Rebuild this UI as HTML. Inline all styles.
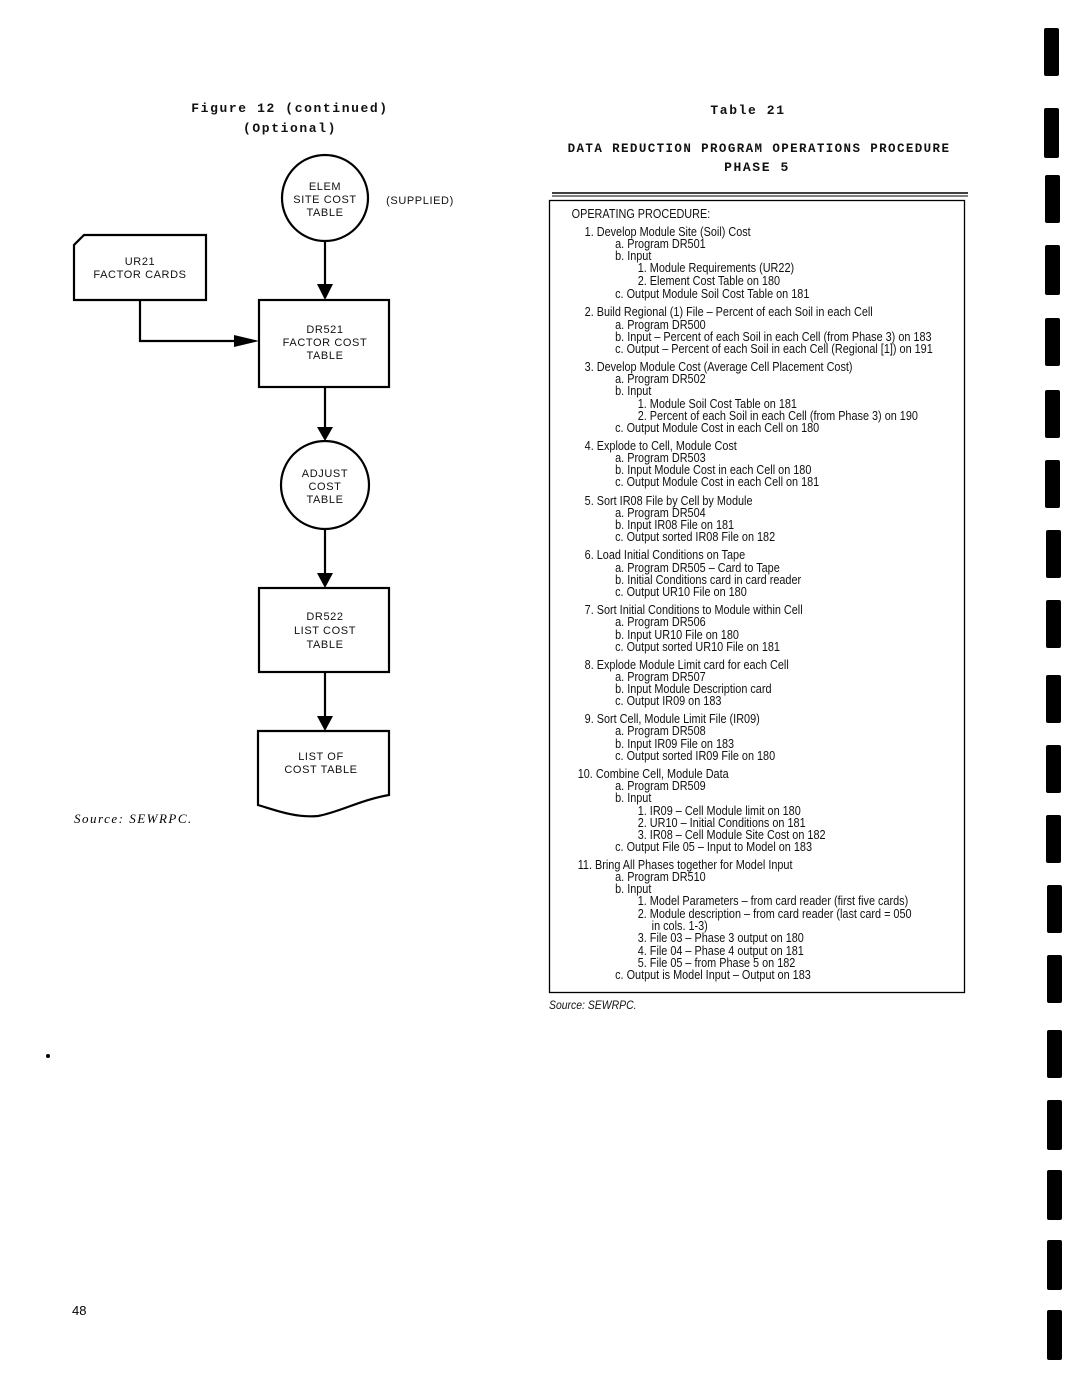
<!DOCTYPE html>
<html><head><meta charset="utf-8"><style>
html,body{margin:0;padding:0;background:#fff;}
svg{display:block}
.fc{font-family:"Liberation Sans",sans-serif;font-size:11px;letter-spacing:0.6px;text-anchor:middle;fill:#111}
.mono{font-family:"Liberation Mono",monospace;font-size:13px;font-weight:bold;letter-spacing:1.6px;text-anchor:middle;fill:#111}
.t{font-family:"Liberation Sans Narrow","Liberation Sans",sans-serif;font-size:12.5px;fill:#111}
</style></head><body>
<svg width="1069" height="1380" viewBox="0 0 1069 1380" xmlns="http://www.w3.org/2000/svg">
<g fill="#000">
<rect x="1044" y="28" width="15" height="48" rx="2"/>
<rect x="1044" y="108" width="15" height="50" rx="2"/>
<rect x="1045" y="175" width="15" height="48" rx="2"/>
<rect x="1045" y="245" width="15" height="50" rx="2"/>
<rect x="1045" y="318" width="15" height="48" rx="2"/>
<rect x="1045" y="390" width="15" height="48" rx="2"/>
<rect x="1045" y="460" width="15" height="48" rx="2"/>
<rect x="1046" y="530" width="15" height="48" rx="2"/>
<rect x="1046" y="600" width="15" height="48" rx="2"/>
<rect x="1046" y="675" width="15" height="48" rx="2"/>
<rect x="1046" y="745" width="15" height="48" rx="2"/>
<rect x="1046" y="815" width="15" height="48" rx="2"/>
<rect x="1047" y="885" width="15" height="48" rx="2"/>
<rect x="1047" y="955" width="15" height="48" rx="2"/>
<rect x="1047" y="1030" width="15" height="48" rx="2"/>
<rect x="1047" y="1100" width="15" height="50" rx="2"/>
<rect x="1047" y="1170" width="15" height="50" rx="2"/>
<rect x="1047" y="1240" width="15" height="50" rx="2"/>
<rect x="1047" y="1310" width="15" height="50" rx="2"/>
<circle cx="48" cy="1056" r="2"/>
</g>

<text class="mono" x="290" y="112">Figure 12 (continued)</text>
<text class="mono" x="290" y="132">(Optional)</text>

<g stroke="#000" stroke-width="2.2" fill="none">
<circle cx="325" cy="198" r="43"/>
<path d="M84 235 H206 V300 H74 V245 Z"/>
<path d="M140 300 V341 H245"/>
<path d="M325 241 V285"/>
<rect x="259" y="300" width="130" height="87"/>
<path d="M325 387 V428"/>
<circle cx="325" cy="485" r="44"/>
<path d="M325 529 V575"/>
<rect x="259" y="588" width="130" height="84"/>
<path d="M325 672 V718"/>
<path d="M258 731 H389 V795 C360 800 340 812 318 816 C295 818 275 810 258 805 Z"/>
</g>
<g fill="#000">
<path d="M317 284 L333 284 L325 300 Z"/>
<path d="M234 335 L259 341 L234 347 Z"/>
<path d="M317 427 L333 427 L325 441 Z"/>
<path d="M317 573 L333 573 L325 588 Z"/>
<path d="M317 716 L333 716 L325 731 Z"/>
</g>
<g class="fc">
<text x="325" y="190">ELEM</text>
<text x="325" y="203">SITE COST</text>
<text x="325" y="216">TABLE</text>
<text x="420" y="204">(SUPPLIED)</text>
<text x="140" y="265">UR21</text>
<text x="140" y="278">FACTOR CARDS</text>
<text x="325" y="333">DR521</text>
<text x="325" y="346">FACTOR COST</text>
<text x="325" y="359">TABLE</text>
<text x="325" y="477">ADJUST</text>
<text x="325" y="490">COST</text>
<text x="325" y="503">TABLE</text>
<text x="325" y="620">DR522</text>
<text x="325" y="634">LIST COST</text>
<text x="325" y="648">TABLE</text>
<text x="321" y="760">LIST OF</text>
<text x="321" y="773">COST TABLE</text>
</g>
<text x="74" y="823" style="font-family:'Liberation Serif',serif;font-style:italic;font-size:13px;letter-spacing:1.5px">Source:  SEWRPC.</text>
<text x="72" y="1315" style="font-family:'Liberation Sans',sans-serif;font-size:13px">48</text>

<text class="mono" x="748" y="114">Table 21</text>
<text class="mono" x="759" y="152" style="font-size:12.5px;letter-spacing:1.4px">DATA REDUCTION PROGRAM OPERATIONS PROCEDURE</text>
<text class="mono" x="757" y="171">PHASE 5</text>
<line x1="552" y1="193" x2="968" y2="193" stroke="#000" stroke-width="1.5"/>
<line x1="552" y1="196" x2="968" y2="196" stroke="#000" stroke-width="1"/>
<rect x="549.5" y="200.5" width="415" height="792" fill="none" stroke="#000" stroke-width="1.3"/>

<g class="t" transform="translate(549,0) scale(0.87,1) translate(-549,0)">
<text x="575" y="218">OPERATING PROCEDURE:</text>
<text x="590" y="236">1.  Develop Module Site (Soil) Cost</text>
<text x="625" y="248">a.  Program DR501</text>
<text x="625" y="260">b.  Input</text>
<text x="651" y="272">1.  Module Requirements (UR22)</text>
<text x="651" y="285">2.  Element Cost Table on 180</text>
<text x="625" y="298">c.  Output Module Soil Cost Table on 181</text>
<text x="590" y="316">2.  Build Regional (1) File – Percent of each Soil in each Cell</text>
<text x="625" y="329">a.  Program DR500</text>
<text x="625" y="341">b.  Input – Percent of each Soil in each Cell (from Phase 3) on 183</text>
<text x="625" y="353">c.  Output – Percent of each Soil in each Cell (Regional [1]) on 191</text>
<text x="590" y="371">3.  Develop Module Cost (Average Cell Placement Cost)</text>
<text x="625" y="383">a.  Program DR502</text>
<text x="625" y="395">b.  Input</text>
<text x="651" y="408">1.  Module Soil Cost Table on 181</text>
<text x="651" y="420">2.  Percent of each Soil in each Cell (from Phase 3) on 190</text>
<text x="625" y="432">c.  Output Module Cost in each Cell on 180</text>
<text x="590" y="450">4.  Explode to Cell, Module Cost</text>
<text x="625" y="462">a.  Program DR503</text>
<text x="625" y="474">b.  Input Module Cost in each Cell on 180</text>
<text x="625" y="486">c.  Output Module Cost in each Cell on 181</text>
<text x="590" y="505">5.  Sort IR08 File by Cell by Module</text>
<text x="625" y="517">a.  Program DR504</text>
<text x="625" y="529">b.  Input IR08 File on 181</text>
<text x="625" y="541">c.  Output sorted IR08 File on 182</text>
<text x="590" y="559">6.  Load Initial Conditions on Tape</text>
<text x="625" y="572">a.  Program DR505 – Card to Tape</text>
<text x="625" y="584">b.  Initial Conditions card in card reader</text>
<text x="625" y="596">c.  Output UR10 File on 180</text>
<text x="590" y="614">7.  Sort Initial Conditions to Module within Cell</text>
<text x="625" y="626">a.  Program DR506</text>
<text x="625" y="639">b.  Input UR10 File on 180</text>
<text x="625" y="651">c.  Output sorted UR10 File on 181</text>
<text x="590" y="669">8.  Explode Module Limit card for each Cell</text>
<text x="625" y="681">a.  Program DR507</text>
<text x="625" y="693">b.  Input Module Description card</text>
<text x="625" y="705">c.  Output IR09 on 183</text>
<text x="590" y="723">9.  Sort Cell, Module Limit File (IR09)</text>
<text x="625" y="735">a.  Program DR508</text>
<text x="625" y="748">b.  Input IR09 File on 183</text>
<text x="625" y="760">c.  Output sorted IR09 File on 180</text>
<text x="582" y="778">10.  Combine Cell, Module Data</text>
<text x="625" y="790">a.  Program DR509</text>
<text x="625" y="802">b.  Input</text>
<text x="651" y="815">1.  IR09 – Cell Module limit on 180</text>
<text x="651" y="827">2.  UR10 – Initial Conditions on 181</text>
<text x="651" y="839">3.  IR08 – Cell Module Site Cost on 182</text>
<text x="625" y="851">c.  Output File 05 – Input to Model on 183</text>
<text x="582" y="869">11.  Bring All Phases together for Model Input</text>
<text x="625" y="881">a.  Program DR510</text>
<text x="625" y="893">b.  Input</text>
<text x="651" y="905">1.  Model Parameters – from card reader (first five cards)</text>
<text x="651" y="918">2.  Module description – from card reader (last card =  050</text>
<text x="667" y="930">in cols. 1-3)</text>
<text x="651" y="942">3.  File 03 – Phase 3 output on 180</text>
<text x="651" y="955">4.  File 04 – Phase 4 output on 181</text>
<text x="651" y="967">5.  File 05 – from Phase 5 on 182</text>
<text x="625" y="979">c.  Output is Model Input – Output on 183</text>
<text x="549" y="1009" style="font-style:italic;font-size:12px">Source: SEWRPC.</text>
</g>
</svg>
</body></html>
